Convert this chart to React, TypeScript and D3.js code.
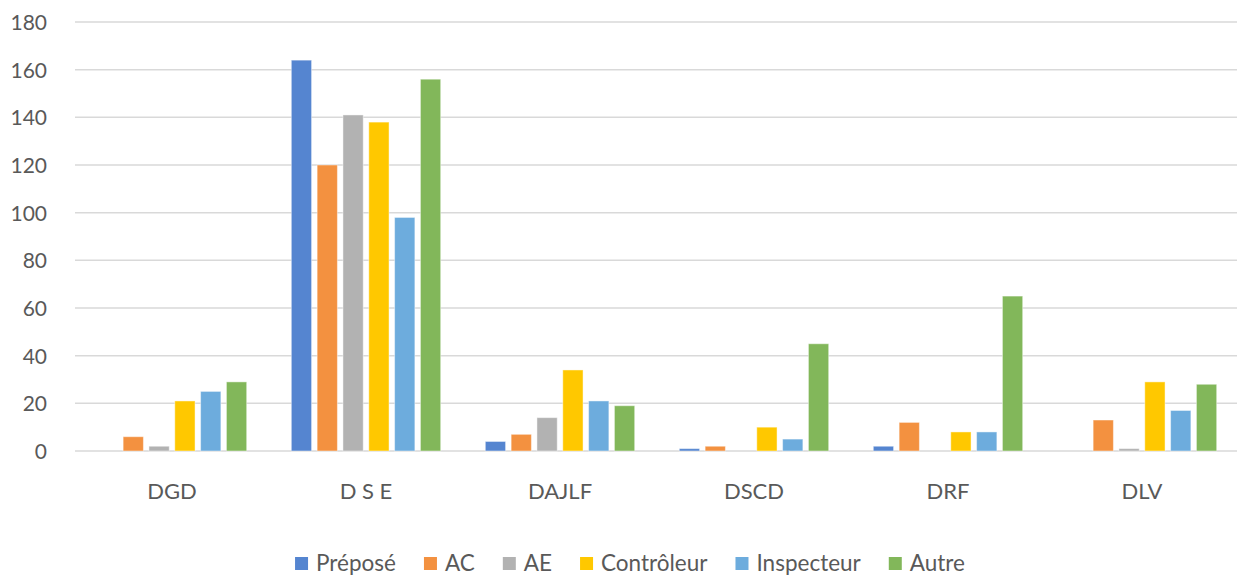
import React, { useEffect, useRef } from "react";
import * as d3 from "d3";

const categories = ["DGD", "D S E", "DAJLF", "DSCD", "DRF", "DLV"];
const seriesNames = ["Préposé", "AC", "AE", "Contrôleur", "Inspecteur", "Autre"];
const prepose = [0, 164, 4, 1, 2, 0];
const ac = [6, 120, 7, 2, 12, 13];
const ae = [2, 141, 14, 0, 0, 1];
const controleur = [21, 138, 34, 10, 8, 29];
const inspecteur = [25, 98, 21, 5, 8, 17];
const autre = [29, 156, 19, 45, 65, 28];
const yTicks = [0, 20, 40, 60, 80, 100, 120, 140, 160, 180];
const colors = ["#5585d0", "#f39140", "#b2b2b2", "#ffc800", "#6dacdd", "#82b75a"];

const FONT = "Lato, 'Open Sans', sans-serif";

export default function App() {
	const ref = useRef<SVGSVGElement>(null);

	useEffect(() => {
		const W = 1237;
		const H = 577;
		const margin = { top: 22, left: 75, right: -2, bottom: 126 };

		const allSeries = [prepose, ac, ae, controleur, inspecteur, autre];

		const svg = d3.select(ref.current);
		svg.selectAll("*").remove();

		const y = d3
			.scaleLinear()
			.domain([0, 180])
			.range([H - margin.bottom, margin.top]);

		const x0 = d3
			.scaleBand()
			.domain(categories)
			.range([margin.left, W - margin.right])
			.paddingInner(0.23)
			.paddingOuter(0.115);

		const x1 = d3
			.scaleBand()
			.domain(seriesNames)
			.range([0, x0.bandwidth()])
			.paddingInner(0.215);

		// gridlines
		svg.append("g")
			.selectAll("line")
			.data(yTicks)
			.join("line")
			.attr("x1", margin.left)
			.attr("x2", W)
			.attr("y1", (d) => y(d))
			.attr("y2", (d) => y(d))
			.attr("stroke", "#d9d9d9")
			.attr("stroke-width", 1.5);

		// y labels
		svg.append("g")
			.selectAll("text")
			.data(yTicks)
			.join("text")
			.attr("x", 47)
			.attr("y", (d) => y(d) + 8)
			.attr("text-anchor", "end")
			.attr("font-family", FONT)
			.attr("font-size", 21)
			.attr("fill", "#595959")
			.text((d) => d);

		// bars
		const groups = svg
			.append("g")
			.selectAll("g")
			.data(categories)
			.join("g")
			.attr("transform", (d) => `translate(${x0(d)},0)`);

		groups
			.selectAll("rect")
			.data((c, i) => seriesNames.map((s, j) => ({ s, j, v: allSeries[j][i] })))
			.join("rect")
			.filter((d) => d.v > 0)
			.attr("x", (d) => x1(d.s)!)
			.attr("width", x1.bandwidth())
			.attr("y", (d) => y(d.v))
			.attr("height", (d) => y(0) - y(d.v))
			.attr("fill", (d) => colors[d.j])
			.attr("stroke", "#ffffff")
			.attr("stroke-opacity", 0.45)
			.attr("stroke-width", 1);

		// category labels
		svg.append("g")
			.selectAll("text")
			.data(categories)
			.join("text")
			.attr("x", (d) => x0(d)! + x0.bandwidth() / 2)
			.attr("y", 499)
			.attr("text-anchor", "middle")
			.attr("font-family", FONT)
			.attr("font-size", 22)
			.attr("fill", "#595959")
			.text((d) => d);

		// legend
		const legend = svg.append("g");
		const items = legend
			.selectAll("g")
			.data(seriesNames)
			.join("g");
		items
			.append("rect")
			.attr("width", 13)
			.attr("height", 13)
			.attr("y", 557)
			.attr("fill", (d, i) => colors[i]);
		items
			.append("text")
			.attr("x", 21)
			.attr("y", 571)
			.attr("font-family", FONT)
			.attr("font-size", 22.5)
			.attr("fill", "#595959")
			.text((d) => d);

		let offset = 0;
		const widths: number[] = [];
		items.each(function () {
			const t = d3.select(this).select("text").node() as SVGTextElement;
			widths.push(21 + t.getComputedTextLength());
		});
		const gap = 28;
		const total = d3.sum(widths) + gap * (widths.length - 1);
		const start = 630 - total / 2;
		items.attr("transform", (d, i) => {
			const tx = start + offset;
			offset += widths[i] + gap;
			return `translate(${tx},0)`;
		});
	}, []);

	return (
		<svg
			ref={ref}
			width={1237}
			height={577}
			style={{ position: "absolute", left: 0, top: 0, background: "#fff" }}
		/>
	);
}
